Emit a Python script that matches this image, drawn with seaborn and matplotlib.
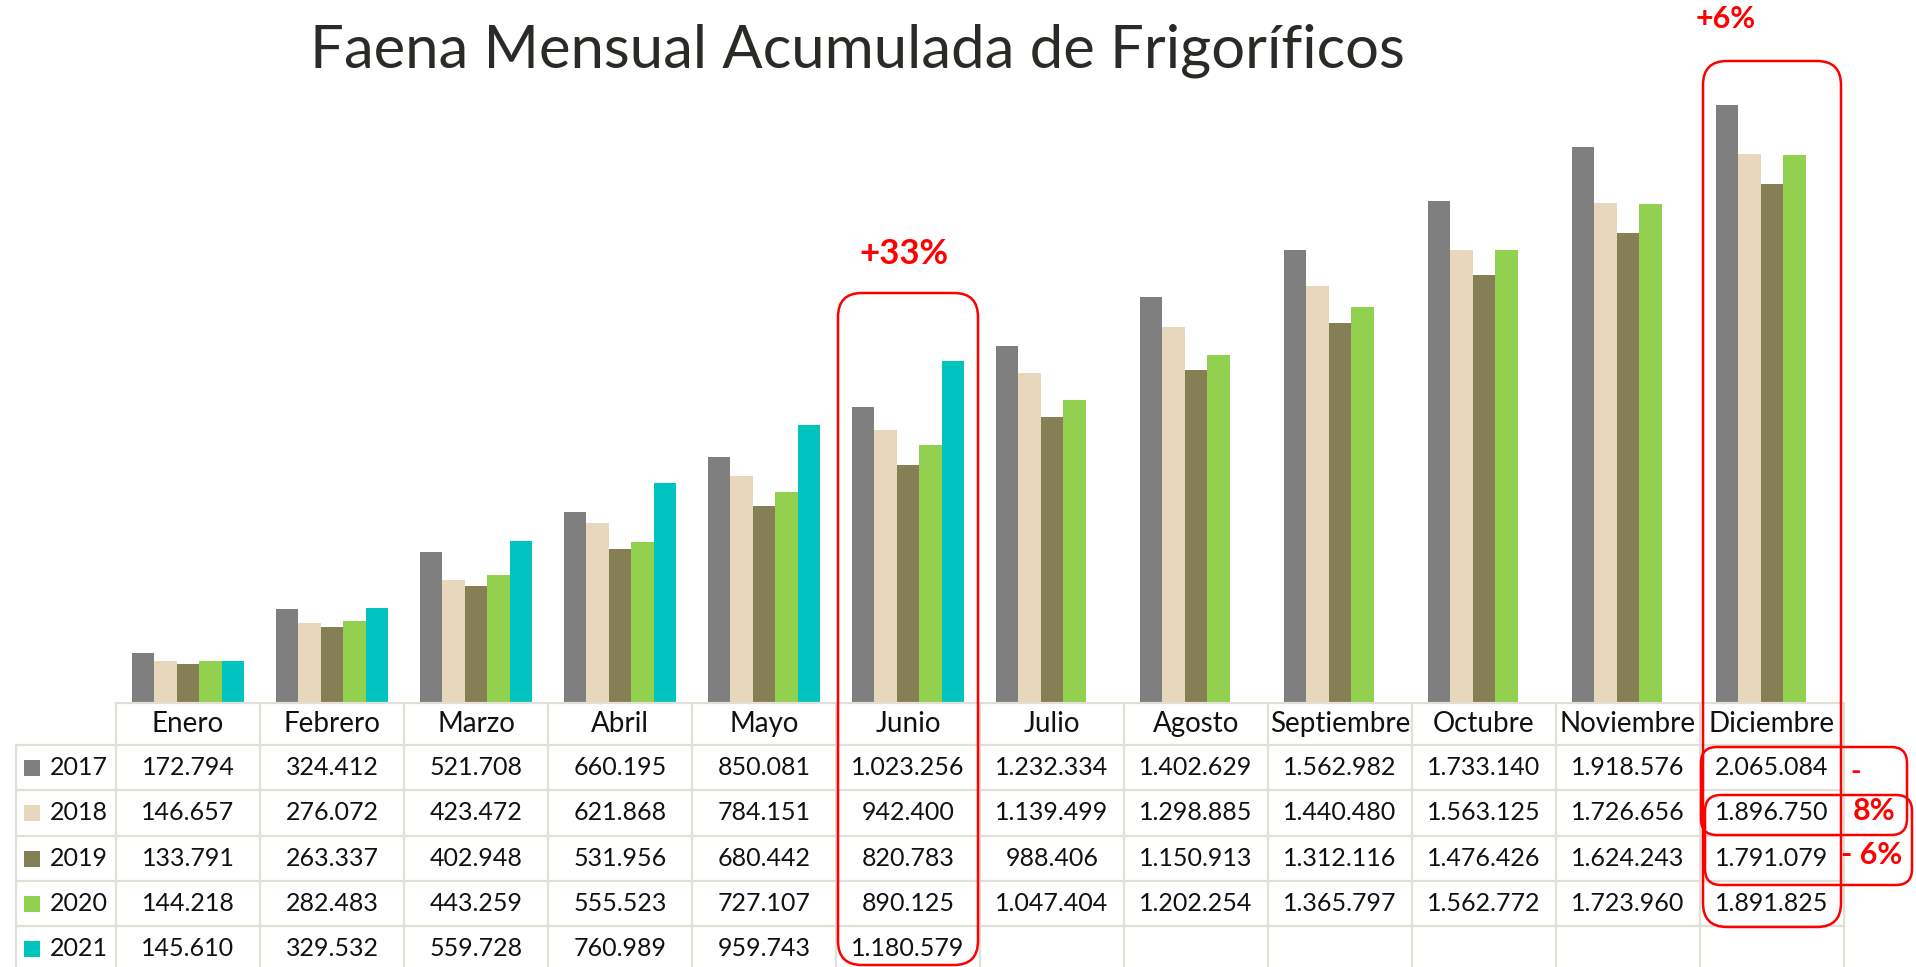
import numpy as np
import pandas as pd
import matplotlib
matplotlib.use("Agg")
import matplotlib.pyplot as plt
import seaborn as sns
from matplotlib.patches import FancyBboxPatch, Rectangle

# ---------------- data ----------------
months = ["Enero", "Febrero", "Marzo", "Abril", "Mayo", "Junio", "Julio",
          "Agosto", "Septiembre", "Octubre", "Noviembre", "Diciembre"]
years = ["2017", "2018", "2019", "2020", "2021"]
v2017 = [172794, 324412, 521708, 660195, 850081, 1023256, 1232334, 1402629,
         1562982, 1733140, 1918576, 2065084]
v2018 = [146657, 276072, 423472, 621868, 784151, 942400, 1139499, 1298885,
         1440480, 1563125, 1726656, 1896750]
v2019 = [133791, 263337, 402948, 531956, 680442, 820783, 988406, 1150913,
         1312116, 1476426, 1624243, 1791079]
v2020 = [144218, 282483, 443259, 555523, 727107, 890125, 1047404, 1202254,
         1365797, 1562772, 1723960, 1891825]
v2021 = [145610, 329532, 559728, 760989, 959743, 1180579,
         None, None, None, None, None, None]
series = [v2017, v2018, v2019, v2020, v2021]
colors = ["#7f7f7f", "#e7d8bd", "#857f56", "#92d050", "#00c4c0"]

title = "Faena Mensual Acumulada de Frigoríficos"

rows = []
for y, vals in zip(years, series):
    for m, v in zip(months, vals):
        if v is not None:
            rows.append({"Mes": m, "Año": y, "Valor": v})
df = pd.DataFrame(rows)

# ---------------- figure ----------------
W, H = 1916, 967
sns.set_theme(style="white")
plt.rcParams["font.family"] = ["Lato", "DejaVu Sans"]
fig = plt.figure(figsize=(W / 100, H / 100), dpi=100)
fig.patch.set_facecolor("white")

def fx(px):
    return px / W

def fy(py):
    return 1 - py / H

# bar axes: columns from x=116 to x=1844, baseline at y=703
ax_left, ax_right = 116, 1844
ax_top, ax_bot = 60, 703
ax = fig.add_axes([fx(ax_left), fy(ax_bot), fx(ax_right) - fx(ax_left), fy(ax_top) - fy(ax_bot)])
sns.barplot(data=df, x="Mes", y="Valor", hue="Año", order=months, hue_order=years,
            palette=colors, width=0.78, errorbar=None, legend=False,
            saturation=1, linewidth=0, ax=ax)
ax.set_xlim(-0.5, 11.5)
ax.set_ylim(0, 2.22e6)
ax.axis("off")

# overlay in pixel coordinates for table & annotations
ov = fig.add_axes([0, 0, 1, 1], facecolor="none")
ov.set_xlim(0, W)
ov.set_ylim(H, 0)
ov.axis("off")

grid_c = "#e2dfd6"
col_w = (ax_right - ax_left) / 12
row_lines = [745, 790, 836, 881, 926, 972]
# header top line
ov.plot([ax_left, ax_right], [703, 703], color=grid_c, lw=1.6, zorder=1)
for yl in row_lines:
    ov.plot([16, ax_right], [yl, yl], color=grid_c, lw=1.6, zorder=1)
ov.plot([16, 16], [745, H], color=grid_c, lw=1.6, zorder=1)
for i in range(13):
    xl = ax_left + col_w * i
    ov.plot([xl, xl], [703, H], color=grid_c, lw=1.6, zorder=1)

txt_c = "#111111"
fs = 18
# header
for i, m in enumerate(months):
    ov.text(ax_left + col_w * (i + 0.5), 724, m, ha="center", va="center",
            fontsize=20, color=txt_c)

def fmt(v):
    return f"{v:,}".replace(",", ".")

for r, (y, vals, c) in enumerate(zip(years, series, colors)):
    yc = (row_lines[r] + row_lines[r + 1]) / 2
    ov.add_patch(Rectangle((24, yc - 8), 16, 16, facecolor=c, edgecolor="none", zorder=2))
    ov.text(50, yc, y, ha="left", va="center", fontsize=fs, color=txt_c)
    for i, v in enumerate(vals):
        if v is not None:
            ov.text(ax_left + col_w * (i + 0.5), yc, fmt(v), ha="center", va="center",
                    fontsize=fs, color=txt_c)

# title
ov.text(857, 51, title, ha="center", va="center", fontsize=43, color="#2b2a26")

# red annotations
red = "#ff0000"
def rbox(x0, y0, x1, y1, r):
    ov.add_patch(FancyBboxPatch((x0, y0), x1 - x0, y1 - y0,
                                boxstyle=f"round,pad=0,rounding_size={r}",
                                facecolor="none", edgecolor=red, lw=1.8, zorder=5))

rbox(838, 293, 978, 965, 24)
rbox(1703, 61, 1841, 927, 24)
rbox(1701, 747, 1907, 835, 16)
rbox(1705, 795, 1912, 885, 16)

ov.text(904, 254, "+33%", ha="center", va="center", fontsize=25, fontweight="bold", color=red)
ov.text(1726, 19, "+6%", ha="center", va="center", fontsize=22, fontweight="bold", color=red)
ov.text(1856, 772, "-", ha="center", va="center", fontsize=20, fontweight="bold", color=red)
ov.text(1874, 811, "8%", ha="center", va="center", fontsize=22, fontweight="bold", color=red)
ov.text(1872, 855, "- 6%", ha="center", va="center", fontsize=22, fontweight="bold", color=red)

fig.savefig("out.png", dpi=100, facecolor="white")
